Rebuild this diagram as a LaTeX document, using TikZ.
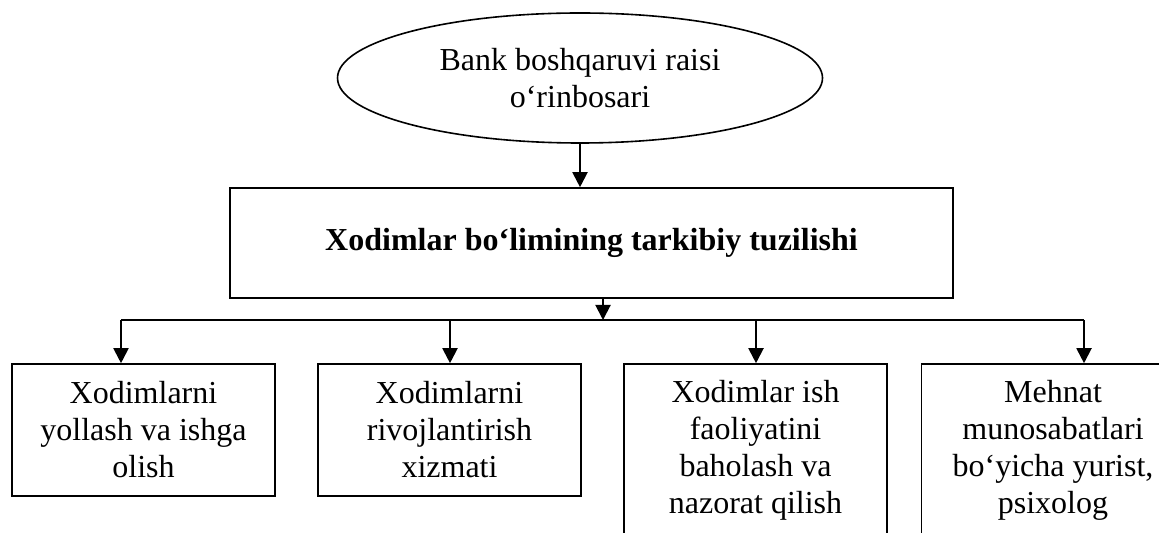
\documentclass[tikz,border=0pt]{standalone}
\usepackage{fontspec}
\setmainfont{Liberation Serif}
\usetikzlibrary{shapes.geometric,arrows.meta}
\begin{document}
\begin{tikzpicture}[x=0.5pt,y=-0.5pt,
  txt/.style={align=center,font=\fontsize{16}{18.5}\selectfont,inner sep=0pt},
  unit/.style={txt,draw,line width=0.8pt,minimum width=131.5pt,minimum height=66pt},
  tallunit/.style={unit,minimum height=86pt},
  link/.style={line width=1pt,-{Triangle[width=7.5pt,length=7.5pt]}},
  busline/.style={line width=1pt}]
  % page frame
  \useasboundingbox (0,0) rectangle (1159,533);
  \fill[white] (0,0) rectangle (1159,533);
  \clip (0,0) rectangle (1159,533);

  % head of the department
  \node[txt,draw,line width=0.8pt,ellipse,minimum width=242.5pt,minimum height=65pt] (head) at (580,78)
    {Bank boshqaruvi raisi\\o‘rinbosari};

  % department structure
  \node[txt,draw,line width=0.8pt,minimum width=361.5pt,minimum height=55pt,font=\fontsize{16}{18.5}\selectfont\bfseries] (dept) at (591.5,243)
    {Xodimlar bo‘limining tarkibiy tuzilishi};

  % units
  \node[unit] (u1) at (143.5,430) {Xodimlarni\\yollash va ishga\\olish};
  \node[unit] (u2) at (449.5,430) {Xodimlarni\\rivojlantirish\\xizmati};
  \node[tallunit] (u3) at (755.5,450) {Xodimlar ish\\faoliyatini\\baholash va\\nazorat qilish};
  \node[tallunit] (u4) at (1053,450) {Mehnat\\munosabatlari\\bo‘yicha yurist,\\psixolog};

  % distribution bus
  \coordinate (hub) at (603,320);
  \coordinate (busL) at (121,320);
  \coordinate (b2) at (450,320);
  \coordinate (b3) at (756,320);
  \coordinate (busR) at (1084,320);

  % connectors
  \draw[link] (head.south) -- (head.south |- dept.north);
  \draw[link] (dept.south -| hub) -- (hub);
  \draw[busline] (busL) -- (busR);
  \draw[link] (busL) -- (busL |- u1.north);
  \draw[link] (b2) -- (b2 |- u2.north);
  \draw[link] (b3) -- (b3 |- u3.north);
  \draw[link] (busR) -- (busR |- u4.north);
\end{tikzpicture}
\end{document}
